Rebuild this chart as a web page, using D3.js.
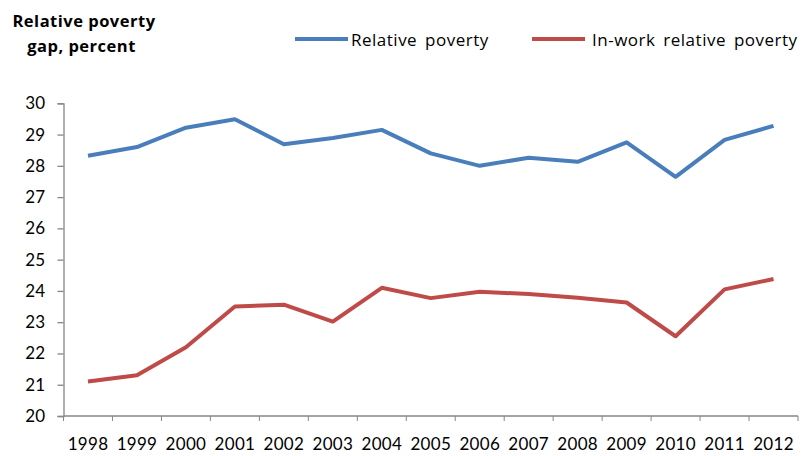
<!DOCTYPE html>
<html><head><meta charset="utf-8">
<script src="https://cdn.jsdelivr.net/npm/d3@7"></script>
<style>body{margin:0;background:#fff}svg{display:block}</style>
</head><body>
<script>
const years = ["1998","1999","2000","2001","2002","2003","2004","2005","2006","2007","2008","2009","2010","2011","2012"];
const relativePoverty = [28.32,28.6,29.22,29.49,28.69,28.89,29.15,28.4,28.0,28.26,28.13,28.75,27.65,28.83,29.28];
const inWorkPoverty = [21.1,21.3,22.2,23.5,23.56,23.02,24.1,23.77,23.97,23.9,23.78,23.63,22.55,24.05,24.38];
const yTicks = [20,21,22,23,24,25,26,27,28,29,30];
const seriesNames = ["Relative poverty","In-work relative poverty"];
const colors = ["#4A7EBB","#BE4B48"];

const W=801,H=456;
const svg=d3.select("body").append("svg").attr("width",W).attr("height",H);
const font="Lato, 'Open Sans', sans-serif";
const font2="'Open Sans', Lato, sans-serif";
const x=d3.scaleBand().domain(years).range([63.5,798]);
const y=d3.scaleLinear().domain([20,30]).range([416,103.3]);

const axisColor="#868686";
const ya=svg.append("g").attr("transform","translate(63.5,0)")
  .call(d3.axisLeft(y).tickValues(yTicks).tickSize(6).tickPadding(12).tickFormat(d3.format("d")));
const xa=svg.append("g").attr("transform","translate(0,416)")
  .call(d3.axisBottom(x).tickSize(0).tickPadding(22));
const bounds=years.map(d=>x(d)).concat([x.range()[1]]);
svg.append("g").selectAll("line").data(bounds).join("line")
  .attr("x1",d=>d).attr("x2",d=>d).attr("y1",416).attr("y2",421)
  .attr("stroke",axisColor).attr("stroke-width",1);
[ya,xa].forEach(g=>{
  g.selectAll("path,line").attr("stroke",axisColor).attr("stroke-width",1.3);
  g.selectAll("text").attr("fill","#000").style("font-family",font).style("font-size","17px").style("letter-spacing","0.3px");
});
xa.select(".domain").attr("d","M63.5,0H798");

const line=d3.line().x((d,i)=>x(years[i])+x.bandwidth()/2).y(d=>y(d));
[relativePoverty,inWorkPoverty].forEach((s,i)=>{
  svg.append("path").datum(s).attr("d",line).attr("fill","none")
    .attr("stroke",colors[i]).attr("stroke-width",4).attr("stroke-linejoin","round");
});

const t=svg.append("text").style("font-family",font2).style("font-size","16.5px").style("font-weight","bold")
  .style("letter-spacing","0.5px").attr("text-anchor","middle").attr("fill","#000");
t.append("tspan").attr("x",84).attr("y",27).text("Relative poverty");
t.append("tspan").attr("x",81.5).attr("y",52).text("gap, percent");

const leg=[{x1:295,x2:348,tx:351},{x1:532,x2:585,tx:592}];
leg.forEach((l,i)=>{
  svg.append("line").attr("x1",l.x1).attr("x2",l.x2).attr("y1",39).attr("y2",39)
    .attr("stroke",colors[i]).attr("stroke-width",4);
  svg.append("text").attr("x",l.tx).attr("y",45.5).text(seriesNames[i])
    .style("font-family",font2).style("font-size","17px").style("letter-spacing","0.5px").style("word-spacing","3px").attr("fill","#000");
});
</script>
</body></html>
